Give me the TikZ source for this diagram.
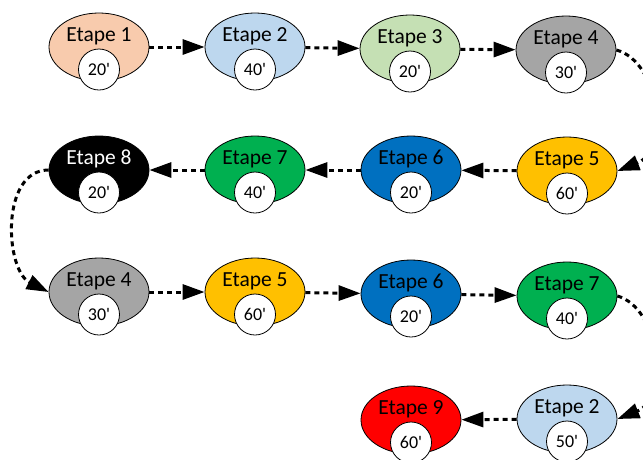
\documentclass[tikz,border=0pt]{standalone}
\usepackage{fontspec}
\setmainfont{Carlito}
\usepackage{tikz}
\usetikzlibrary{shapes,arrows.meta}
\definecolor{saumon}{HTML}{F8CBAD}
\definecolor{bleuclair}{HTML}{BDD7EE}
\definecolor{vertclair}{HTML}{C5E0B4}
\definecolor{gris}{HTML}{A5A5A5}
\definecolor{jaune}{HTML}{FFC000}
\definecolor{bleu}{HTML}{0070C0}
\definecolor{vert}{HTML}{00B050}
\definecolor{rouge}{HTML}{FF0000}
\tikzset{etape/.style={ellipse, draw=black, line width=0.8pt, minimum width=100pt, minimum height=68pt, inner sep=0pt, text height=14pt, text depth=25pt, font=\fontsize{21.5}{24}\selectfont}}
\tikzset{duree/.style={circle, draw=black, fill=white, line width=0.8pt, minimum size=41pt, inner sep=0pt, font=\fontsize{18}{20}\selectfont}}
\tikzset{fleche/.style={line width=3pt, dash pattern=on 5pt off 4pt, -{Triangle[length=22pt,width=15pt]}}}

\begin{document}
\begin{tikzpicture}[x=1pt,y=-1pt]
\path[use as bounding box, clip] (0,0) rectangle (643,459);

% ligne 1
\node[etape,fill=saumon] (a1) at (99,47) {Etape 1};
\node[etape,fill=bleuclair] (a2) at (255,47) {Etape 2};
\node[etape,fill=vertclair] (a3) at (410,49) {Etape 3};
\node[etape,fill=gris] (a4) at (566,50) {Etape 4};
\node[duree] (da1) at ([yshift=-22.5pt]a1.center) {20\textquotesingle};
\node[duree] (da2) at ([yshift=-22.5pt]a2.center) {40\textquotesingle};
\node[duree] (da3) at ([yshift=-22.5pt]a3.center) {20\textquotesingle};
\node[duree] (da4) at ([yshift=-22.5pt]a4.center) {30\textquotesingle};

% ligne 2
\node[etape,fill=jaune] (b1) at (567,171) {Etape 5};
\node[etape,fill=bleu] (b2) at (411,170) {Etape 6};
\node[etape,fill=vert] (b3) at (255,170) {Etape 7};
\node[etape,fill=black,text=white] (b4) at (99,170) {Etape 8};
\node[duree] (db1) at ([yshift=-22.5pt]b1.center) {60\textquotesingle};
\node[duree] (db2) at ([yshift=-22.5pt]b2.center) {20\textquotesingle};
\node[duree] (db3) at ([yshift=-22.5pt]b3.center) {40\textquotesingle};
\node[duree] (db4) at ([yshift=-22.5pt]b4.center) {20\textquotesingle};

% ligne 3
\node[etape,fill=gris] (c1) at (99,292) {Etape 4};
\node[etape,fill=jaune] (c2) at (255,292) {Etape 5};
\node[etape,fill=bleu] (c3) at (411,294) {Etape 6};
\node[etape,fill=vert] (c4) at (567,296) {Etape 7};
\node[duree] (dc1) at ([yshift=-22.5pt]c1.center) {30\textquotesingle};
\node[duree] (dc2) at ([yshift=-22.5pt]c2.center) {60\textquotesingle};
\node[duree] (dc3) at ([yshift=-22.5pt]c3.center) {20\textquotesingle};
\node[duree] (dc4) at ([yshift=-22.5pt]c4.center) {40\textquotesingle};

% ligne 4
\node[etape,fill=bleuclair] (d1) at (567,419) {Etape 2};
\node[etape,fill=rouge] (d2) at (411,420) {Etape 9};
\node[duree] (dd1) at ([yshift=-22.5pt]d1.center) {50\textquotesingle};
\node[duree] (dd2) at ([yshift=-22.5pt]d2.center) {60\textquotesingle};

\draw[fleche] (a1) -- (a2);
\draw[fleche] (a2) -- (a3);
\draw[fleche] (a3) -- (a4);
\draw[fleche] (a4.east) .. controls (660,62) and (670,150) .. (b1.east);
\draw[fleche] (b1) -- (b2);
\draw[fleche] (b2) -- (b3);
\draw[fleche] (b3) -- (b4);
\draw[fleche] (b4.west) .. controls (0,170) and (5,270) .. (c1.west);
\draw[fleche] (c1) -- (c2);
\draw[fleche] (c2) -- (c3);
\draw[fleche] (c3) -- (c4);
\draw[fleche] (c4.east) .. controls (660,308) and (670,398) .. (d1.east);
\draw[fleche] (d1) -- (d2);

\end{tikzpicture}
\end{document}
